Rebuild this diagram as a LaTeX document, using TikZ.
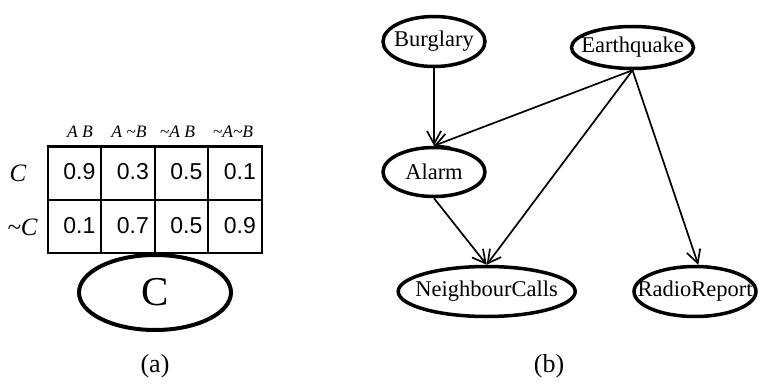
\documentclass[tikz,border=0pt]{standalone}
\usepackage{fontspec}
\setmainfont{Liberation Serif}
\newfontfamily\arialf{Liberation Sans}
\usetikzlibrary{shapes.geometric,arrows.meta}
\begin{document}
\begin{tikzpicture}[x=1pt,y=-1pt,
  var/.style={ellipse,draw,line width=3.5pt,inner sep=0pt,font=\fontsize{22.5}{26}\selectfont},
  edge/.style={line width=1.7pt,-{Straight Barb[length=13pt,width=14pt,line width=1.7pt]}},
  prob/.style={anchor=base east,inner sep=0pt,font=\arialf\fontsize{23}{26}\selectfont},
  colhead/.style={anchor=base,inner sep=0pt,font=\itshape\fontsize{17.5}{20}\selectfont},
  rowhead/.style={anchor=base,inner sep=0pt,font=\itshape\fontsize{25}{28}\selectfont},
  caption/.style={anchor=base,inner sep=0pt,font=\fontsize{26}{30}\selectfont},
  cpt/.style={line width=2pt}
]
\useasboundingbox (0,0) rectangle (760,385);

% ---- (a) ----
\draw[cpt] (48,146.5) rectangle (261.5,253);
\draw[cpt] (101,146.5) -- (101,253);
\draw[cpt] (154.5,146.5) -- (154.5,253);
\draw[cpt] (208,146.5) -- (208,253);
\draw[cpt] (48,200) -- (261.5,200);

\node[colhead] (h1) at (80,138) {A B};
\node[colhead] (h2) at (129,138) {A \textasciitilde B};
\node[colhead] (h3) at (177.5,138) {\textasciitilde A B};
\node[colhead] (h4) at (233,138) {\textasciitilde A\textasciitilde B};

\node[rowhead] (r1) at (18,181.5) {C};
\node[rowhead] (r2) at (22.5,235) {\textasciitilde C};

\node[prob] (p11) at (95.5,179.5) {0.9};
\node[prob] (p12) at (149,179.5) {0.3};
\node[prob] (p13) at (202.5,179.5) {0.5};
\node[prob] (p14) at (256,179.5) {0.1};
\node[prob] (p21) at (95.5,233) {0.1};
\node[prob] (p22) at (149,233) {0.7};
\node[prob] (p23) at (202.5,233) {0.5};
\node[prob] (p24) at (256,233) {0.9};

\node[ellipse,draw,line width=4pt,inner sep=0pt,minimum width=152pt,minimum height=75pt,
      font=\fontsize{41}{44}\selectfont] (C) at (155,292.5) {\makebox[0pt]{C}};

\node[caption] (capa) at (155,372) {(a)};

% ---- (b) ----
\node[var,minimum width=102pt,minimum height=50pt] (B) at (434,41.5) {\makebox[0pt]{Burglary}};
\node[var,minimum width=122pt,minimum height=42pt] (E) at (632.5,47.5) {\makebox[0pt]{Earthquake}};
\node[var,minimum width=102pt,minimum height=49pt] (A) at (434,172) {\makebox[0pt]{Alarm}};
\node[var,minimum width=177pt,minimum height=50pt] (N) at (486.7,291.5) {\makebox[0pt]{NeighbourCalls}};
\node[var,minimum width=122pt,minimum height=50pt] (R) at (695,291.5) {\makebox[0pt]{RadioReport}};

\draw[edge] (B.south) -- (A.north);
\draw[edge] (E.south) -- (A.north);
\draw[edge] (E.south) -- (N.north);
\draw[edge] (A.south) -- (N.north);
\draw[edge] (E.south) -- (R.83);

\node[caption] (capb) at (549,372) {(b)};
\end{tikzpicture}
\end{document}
